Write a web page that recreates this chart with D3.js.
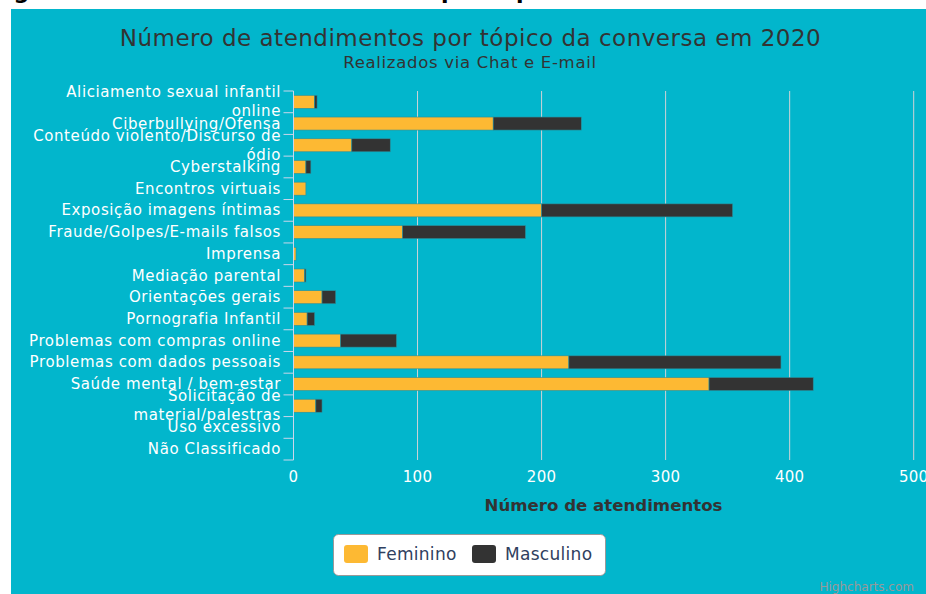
<!DOCTYPE html>
<html><head><meta charset="utf-8">
<script src="https://cdn.jsdelivr.net/npm/d3@7/dist/d3.min.js"></script>
<style>
html,body{margin:0;padding:0;background:#fff;}
svg{display:block;font-family:"DejaVu Sans",Verdana,sans-serif;}
</style></head><body>
<svg id="c" width="926" height="594"></svg>
<script>
const categories = ["Aliciamento sexual infantil online","Ciberbullying/Ofensa","Conteúdo violento/Discurso de ódio","Cyberstalking","Encontros virtuais","Exposição imagens íntimas","Fraude/Golpes/E-mails falsos","Imprensa","Mediação parental","Orientações gerais","Pornografia Infantil","Problemas com compras online","Problemas com dados pessoais","Saúde mental / bem-estar","Solicitação de material/palestras","Uso excessivo","Não Classificado"];
const feminino  = [17,161,47,10,10,200,88,2,9,23,11,38,222,335,18,0,0];
const masculino = [2,71,31,4,0,154,99,0,1,11,6,45,171,84,5,0,0];
const xTicks = [0,100,200,300,400,500];
const seriesNames = ["Feminino","Masculino"];
const colors = ["#FDB933","#333333"];
const titleText = "Número de atendimentos por tópico da conversa em 2020";
const subtitleText = "Realizados via Chat e E-mail";
const xAxisTitle = "Número de atendimentos";

const svg = d3.select("#c");
// page caption cut off at top
svg.append("text").attr("x",-9).attr("y",-1.5).attr("font-weight","bold").attr("font-size",22)
  .attr("fill","#000").text("Figura 7 - Número de atendimentos por tópico da conversa em 2020 - Chat e E-mail");
svg.append("rect").attr("x",11).attr("y",9).attr("width",915).attr("height",585).attr("fill","#02B6CC");

const m = {left:293.5, right:913.7, top:91, bottom:460};
const x = d3.scaleLinear().domain([0,500]).range([m.left,m.right]);
const y = d3.scaleBand().domain(categories).range([m.top,m.bottom]).paddingInner(0.4).paddingOuter(0.2);
const yb = d3.scaleBand().domain(categories).range([m.top,m.bottom]);

// title
svg.append("text").attr("x",470.5).attr("y",46).attr("text-anchor","middle").attr("font-size",23).attr("letter-spacing",0.5).attr("fill","#333").text(titleText);
svg.append("text").attr("x",470).attr("y",68).attr("text-anchor","middle").attr("font-size",16.5).attr("letter-spacing",0.7).attr("fill","#333").text(subtitleText);

// grid
const g = svg.append("g");
g.selectAll("line.grid").data(xTicks.slice(1)).join("line")
  .attr("x1",d=>x(d)).attr("x2",d=>x(d)).attr("y1",m.top).attr("y2",m.bottom)
  .attr("stroke","#cfd3d6").attr("stroke-width",1);

// stacks
const rows = categories.map((c,i)=>({cat:c, Feminino:feminino[i], Masculino:masculino[i]}));
const stack = d3.stack().keys(seriesNames)(rows);
stack.forEach((s,si)=>{
  g.append("g").selectAll("rect").data(s).join("rect")
    .attr("x",d=>x(d[0])).attr("width",d=>Math.max(0,x(d[1])-x(d[0])))
    .attr("y",d=>y(d.data.cat)).attr("height",y.bandwidth())
    .attr("fill",colors[si]).attr("stroke", d=> (d[1]-d[0])>0 ? "#2a8f9c" : "none").attr("stroke-width",0.6);
});

// y axis line & ticks
g.append("line").attr("x1",m.left).attr("x2",m.left).attr("y1",m.top).attr("y2",m.bottom).attr("stroke","#ccd6eb");
const tickYs = categories.map(c=>yb(c)).concat([m.bottom]);
g.selectAll("line.tk").data(tickYs).join("line").attr("x1",m.left-10).attr("x2",m.left).attr("y1",d=>d).attr("y2",d=>d).attr("stroke","#ccd6eb");

// y labels with wrapping
const maxW = 262, fs = 15, lh = 19, ls = 0.6;
categories.forEach(c=>{
  const cy = yb(c)+yb.bandwidth()/2;
  const t = svg.append("text").attr("font-size",fs).attr("fill","#fff").attr("text-anchor","end").attr("letter-spacing",ls);
  const words = c.split(" ");
  let lines=[], cur="";
  const probe = svg.append("text").attr("font-size",fs).attr("letter-spacing",ls);
  words.forEach(w=>{
    const tryS = cur? cur+" "+w : w;
    probe.text(tryS);
    if (probe.node().getComputedTextLength()>maxW && cur){ lines.push(cur); cur=w; } else cur=tryS;
  });
  lines.push(cur); probe.remove();
  const y0 = cy - (lines.length-1)*lh/2 + 5;
  lines.forEach((l,i)=> t.append("tspan").attr("x",281).attr("y",y0+i*lh).text(l));
});

// x ticks
svg.selectAll("text.xt").data(xTicks).join("text").attr("x",d=>x(d)).attr("y",482).attr("text-anchor","middle")
  .attr("font-size",15).attr("letter-spacing",0.3).attr("fill","#fff").text(d=>d);
svg.append("text").attr("x",603.5).attr("y",511).attr("text-anchor","middle").attr("font-size",16.6).attr("font-weight","bold").attr("fill","#333").text(xAxisTitle);

// legend
const lg = svg.append("g");
lg.append("rect").attr("x",333.5).attr("y",534.5).attr("width",272).attr("height",41).attr("rx",5).attr("fill","#fff").attr("stroke","#999");
const legX = [344,472];
seriesNames.forEach((n,i)=>{
  lg.append("rect").attr("x",legX[i]).attr("y",545).attr("width",24).attr("height",18).attr("rx",3).attr("fill",colors[i]);
  lg.append("text").attr("x",legX[i]+33).attr("y",560).attr("font-size",17).attr("letter-spacing",0.3).attr("fill","#2f4060").text(n);
});
svg.append("text").attr("x",914).attr("y",591).attr("text-anchor","end").attr("font-size",12).attr("fill","#999").text("Highcharts.com");
</script></body></html>
